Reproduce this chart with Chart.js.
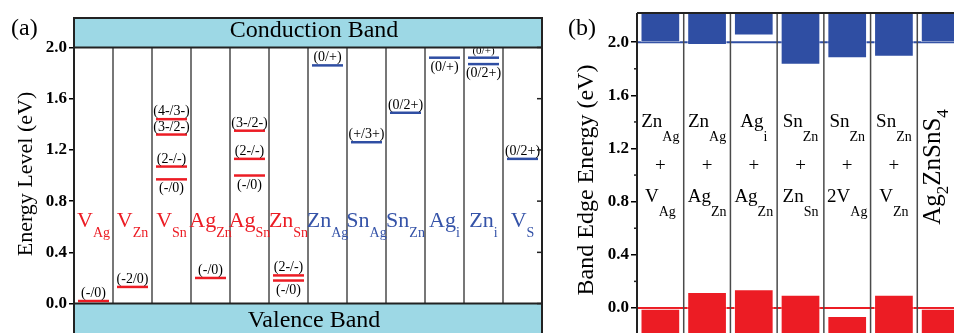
<!DOCTYPE html>
<html>
<head>
<meta charset="utf-8">
<script src="https://cdn.jsdelivr.net/npm/chart.js@4/dist/chart.umd.min.js"></script>
<style>
  html, body { margin: 0; padding: 0; background: #fff; overflow: hidden; }
  #wrap { position: relative; width: 954px; height: 333px; overflow: hidden; background: #fff; }
  canvas { position: absolute; top: 0; }
  #levels { left: 0; width: 560px; height: 360px; }
  #edges { left: 560px; width: 420px; height: 360px; }
</style>
</head>
<body>
<div id="wrap">
  <canvas id="levels" width="560" height="360"></canvas>
  <canvas id="edges" width="420" height="360"></canvas>
</div>
<script>
// ---------- (a) transition levels of isolated point defects ----------
const defectBase = ['V', 'V', 'V', 'Ag', 'Ag', 'Zn', 'Zn', 'Sn', 'Sn', 'Ag', 'Zn', 'V'];
const defectSub  = ['Ag', 'Zn', 'Sn', 'Zn', 'Sn', 'Sn', 'Ag', 'Ag', 'Zn', 'i', 'i', 'S'];
const acceptorDefects = 6; // the first six columns are acceptors

const acceptorColumn = [0, 1, 2, 2, 2, 2, 3, 4, 4, 4, 5, 5];
const acceptorLevel  = [0.02, 0.13, 1.44, 1.32, 1.07, 0.97, 0.20, 1.35, 1.13, 1.00, 0.22, 0.18];
const acceptorLabel  = ['(-/0)', '(-2/0)', '(4-/3-)', '(3-/2-)', '(2-/-)', '(-/0)', '(-/0)',
                        '(3-/2-)', '(2-/-)', '(-/0)', '(2-/-)', '(-/0)'];

const donorColumn = [6, 7, 8, 9, 10, 10, 11];
const donorLevel  = [1.86, 1.26, 1.49, 1.92, 1.92, 1.87, 1.13];
const donorLabel  = ['(0/+)', '(+/3+)', '(0/2+)', '(0/+)', '(0/+)', '(0/2+)', '(0/2+)'];

const levelTicks = [0, 0.4, 0.8, 1.2, 1.6, 2.0];
const gapCBM = 2.0;   // conduction band edge
const gapVBM = 0.0;   // valence band edge

// label placement: 1 above the level, -1 below it; font size in px
const acceptorLabelSide = [1, 1, 1, 1, 1, -1, 1, 1, 1, -1, 1, -1];
const donorLabelSide    = [1, 1, 1, -1, 1, -1, 1];
const donorLabelSize    = [14, 14, 14, 14, 11, 14, 14];

// ---------- (b) band edges of defect complexes ----------
const complexTop    = [['Zn', 'Ag'], ['Zn', 'Ag'], ['Ag', 'i'], ['Sn', 'Zn'], ['Sn', 'Zn'], ['Sn', 'Zn']];
const complexBottom = [['V', 'Ag'], ['Ag', 'Zn'], ['Ag', 'Zn'], ['Zn', 'Sn'], ['2V', 'Ag'], ['V', 'Zn']];
const hostFormula   = [['Ag', 0], ['2', 1], ['ZnSnS', 0], ['4', 1]];
const edgeCategories = ['ZnAg+VAg', 'ZnAg+AgZn', 'Agi+AgZn', 'SnZn+ZnSn', 'SnZn+2VAg', 'SnZn+VZn', 'Ag2ZnSnS4'];
const cbmEdge = [2.00, 1.98, 2.05, 1.83, 1.88, 1.89, 2.00];
const vbmEdge = [0.00, 0.12, 0.14, 0.10, -0.06, 0.10, 0.00];
const edgeTicks = [0, 0.4, 0.8, 1.2, 1.6, 2.0];
const edgeMinorTicks = [0.2, 0.6, 1.0, 1.4, 1.8];

const SERIF = '"Liberation Serif", "Times New Roman", serif';
const RED = '#ec1c24';
const BLUE = '#2f4ea3';
const NAME_BLUE = '#3553a8';
const CYAN = '#9dd8e5';
const FRAME = '#222';
const SEP = '#4a4a4a';

// draws text made of normal / subscript pieces, centred on cx
function drawPieces(ctx, pieces, cx, baseY, mainPx, subPx, subDrop, color) {
  ctx.fillStyle = color;
  ctx.textBaseline = 'alphabetic';
  ctx.textAlign = 'left';
  const widths = pieces.map(([t, s]) => {
    ctx.font = (s ? subPx : mainPx) + 'px ' + SERIF;
    return ctx.measureText(t).width;
  });
  const total = widths.reduce((p, q) => p + q, 0);
  let x = cx - total / 2;
  pieces.forEach(([t, s], k) => {
    ctx.font = (s ? subPx : mainPx) + 'px ' + SERIF;
    ctx.fillText(t, x, baseY + (s ? subDrop : 0));
    x += widths[k];
  });
}

function line(ctx, x1, y1, x2, y2) {
  ctx.beginPath(); ctx.moveTo(x1, y1); ctx.lineTo(x2, y2); ctx.stroke();
}

const levelDecor = {
  id: 'levelDecor',
  beforeDatasetsDraw(chart) {
    const { ctx, scales: { x, y } } = chart;
    const yTop = y.getPixelForValue(gapCBM), yBot = y.getPixelForValue(gapVBM);
    ctx.save();
    ctx.strokeStyle = SEP; ctx.lineWidth = 1.5;
    for (let i = 1; i < defectBase.length; i++) {
      const px = x.getPixelForValue(i);
      line(ctx, px, yTop, px, yBot);
    }
    ctx.restore();
  },
  afterDatasetsDraw(chart) {
    const { ctx, chartArea: a, scales: { x, y } } = chart;
    ctx.save();
    // transition-level labels
    ctx.textAlign = 'center';
    ctx.textBaseline = 'alphabetic';
    ctx.fillStyle = '#000';
    const put = (txt, col, val, side, size) => {
      ctx.font = size + 'px ' + SERIF;
      const px = x.getPixelForValue(col + 0.5);
      const py = y.getPixelForValue(val);
      ctx.fillText(txt, px, side > 0 ? py - 4 : py + 13);
    };
    acceptorLabel.forEach((t, i) => put(t, acceptorColumn[i], acceptorLevel[i], acceptorLabelSide[i], 14));
    donorLabel.forEach((t, i) => put(t, donorColumn[i], donorLevel[i], donorLabelSide[i], donorLabelSize[i]));

    // defect names
    defectBase.forEach((b, i) => {
      const cx = x.getPixelForValue(i + 0.5);
      drawPieces(ctx, [[b, 0], [defectSub[i], 1]], cx, 227, 22, 14, 10,
                 i < acceptorDefects ? RED : NAME_BLUE);
    });

    // conduction and valence bands
    const yC = y.getPixelForValue(gapCBM), yV = y.getPixelForValue(gapVBM);
    ctx.fillStyle = CYAN;
    ctx.fillRect(a.left, a.top, a.right - a.left, yC - a.top);
    ctx.fillRect(a.left, yV, a.right - a.left, a.bottom - yV);
    ctx.strokeStyle = FRAME; ctx.lineWidth = 2;
    line(ctx, a.left, yC, a.right, yC);
    line(ctx, a.left, yV, a.right, yV);
    ctx.fillStyle = '#000';
    ctx.font = '24px ' + SERIF;
    ctx.textAlign = 'center';
    const mid = (a.left + a.right) / 2 + 6;
    ctx.fillText('Conduction Band', mid, 37);
    ctx.fillText('Valence Band', mid, 327);

    // frame
    ctx.strokeStyle = FRAME; ctx.lineWidth = 2;
    ctx.strokeRect(a.left, a.top, a.right - a.left, a.bottom - a.top);
    // inward ticks on the right axis
    ctx.lineWidth = 1.5;
    levelTicks.forEach(v => {
      const py = y.getPixelForValue(v);
      line(ctx, a.right - 5, py, a.right, py);
    });

    // panel letter and axis title
    ctx.font = '24px ' + SERIF;
    ctx.textAlign = 'left';
    ctx.fillText('(a)', 11, 35);
    ctx.save();
    ctx.translate(32, 174);
    ctx.rotate(-Math.PI / 2);
    ctx.textAlign = 'center';
    ctx.font = '22px ' + SERIF;
    ctx.fillText('Energy Level (eV)', 0, 0);
    ctx.restore();
    ctx.restore();
  }
};

new Chart(document.getElementById('levels'), {
  type: 'scatter',
  data: {
    datasets: [
      {
        label: 'acceptor levels',
        data: acceptorLevel.map((v, i) => ({ x: acceptorColumn[i] + 0.5, y: v })),
        pointStyle: 'line', pointRadius: 15.5, pointHoverRadius: 15.5,
        pointBorderWidth: 2.5, pointBorderColor: RED, borderColor: RED
      },
      {
        label: 'donor levels',
        data: donorLevel.map((v, i) => ({ x: donorColumn[i] + 0.5, y: v })),
        pointStyle: 'line', pointRadius: 15.5, pointHoverRadius: 15.5,
        pointBorderWidth: 2.5, pointBorderColor: BLUE, borderColor: BLUE
      }
    ]
  },
  options: {
    responsive: false,
    animation: false,
    events: [],
    layout: { padding: { left: 0, top: 13, right: 14, bottom: 14 } },
    plugins: { legend: { display: false }, tooltip: { enabled: false } },
    scales: {
      x: { type: 'linear', min: 0, max: defectBase.length, display: false },
      y: {
        min: -0.3, max: 2.23,
        afterFit: s => { s.width = 74; },
        afterBuildTicks: s => { s.ticks = levelTicks.map(v => ({ value: v })); },
        border: { display: false },
        grid: { drawOnChartArea: false, drawTicks: true, tickLength: 5, color: '#000', lineWidth: 1.5 },
        ticks: {
          padding: 2, color: '#000',
          font: { family: SERIF, size: 17, weight: 'bold' },
          callback: v => Number(v).toFixed(1)
        }
      }
    }
  },
  plugins: [levelDecor]
});

// ---------- panel (b) ----------
const edgeDecor = {
  id: 'edgeDecor',
  beforeDatasetsDraw(chart) {
    const { ctx, chartArea: a, scales: { y } } = chart;
    ctx.save();
    ctx.lineWidth = 2;
    ctx.strokeStyle = BLUE;
    const yc = y.getPixelForValue(cbmEdge[cbmEdge.length - 1]);
    line(ctx, a.left, yc, a.right, yc);
    ctx.strokeStyle = RED;
    const yv = y.getPixelForValue(vbmEdge[vbmEdge.length - 1]);
    line(ctx, a.left, yv, a.right, yv);
    ctx.restore();
  },
  afterDatasetsDraw(chart) {
    const { ctx, chartArea: a, scales: { x, y } } = chart;
    const n = edgeCategories.length;
    const colW = (a.right - a.left) / n;
    ctx.save();
    // column separators
    ctx.strokeStyle = SEP; ctx.lineWidth = 1.5;
    for (let i = 1; i < n; i++) {
      const px = x.getPixelForValue(i) - colW / 2;
      line(ctx, px, a.top, px, a.bottom);
    }
    // frame (top and left)
    ctx.strokeStyle = FRAME; ctx.lineWidth = 2;
    line(ctx, a.left, a.top, a.right, a.top);
    line(ctx, a.left, a.top, a.left, a.bottom);
    // minor ticks
    ctx.lineWidth = 1.5;
    edgeMinorTicks.forEach(v => {
      const py = y.getPixelForValue(v);
      line(ctx, a.left - 3, py, a.left, py);
    });

    // complex labels
    complexTop.forEach((p, i) => {
      const cx = x.getPixelForValue(i);
      drawPieces(ctx, [[p[0], 0], [p[1], 1]], cx, 127, 19, 14, 14, '#000');
      ctx.font = '19px ' + SERIF; ctx.textAlign = 'center'; ctx.fillStyle = '#000';
      ctx.fillText('+', cx, 171);
      const q = complexBottom[i];
      drawPieces(ctx, [[q[0], 0], [q[1], 1]], cx, 202, 19, 14, 14, '#000');
    });
    // host formula, rotated
    ctx.save();
    ctx.translate(x.getPixelForValue(n - 1) - 1, 167);
    ctx.rotate(-Math.PI / 2);
    drawPieces(ctx, hostFormula, 0, 0, 25, 17, 8, '#000');
    ctx.restore();

    // panel letter and axis title
    ctx.fillStyle = '#000';
    ctx.font = '24px ' + SERIF;
    ctx.textAlign = 'left';
    ctx.fillText('(b)', 8, 35);
    ctx.save();
    ctx.translate(33, 180);
    ctx.rotate(-Math.PI / 2);
    ctx.textAlign = 'center';
    ctx.font = '24px ' + SERIF;
    ctx.fillText('Band Edge Energy (eV)', 0, 0);
    ctx.restore();
    ctx.restore();
  }
};

new Chart(document.getElementById('edges'), {
  type: 'bar',
  data: {
    labels: edgeCategories,
    datasets: [
      {
        label: 'CBM',
        data: cbmEdge.map(v => [v, 2.5]),
        backgroundColor: BLUE, borderColor: 'rgba(255,255,255,0.55)', borderWidth: 1,
        borderSkipped: false, grouped: false, barPercentage: 0.85, categoryPercentage: 1
      },
      {
        label: 'VBM',
        data: vbmEdge.map(v => [-0.5, v]),
        backgroundColor: RED, borderColor: 'rgba(255,255,255,0.55)', borderWidth: 1,
        borderSkipped: false, grouped: false, barPercentage: 0.85, categoryPercentage: 1
      }
    ]
  },
  options: {
    responsive: false,
    animation: false,
    events: [],
    layout: { padding: { left: 0, top: 13, right: 16, bottom: 10 } },
    plugins: { legend: { display: false }, tooltip: { enabled: false } },
    scales: {
      x: { display: false },
      y: {
        min: -0.3, max: 2.22,
        afterFit: s => { s.width = 77; },
        afterBuildTicks: s => { s.ticks = edgeTicks.map(v => ({ value: v })); },
        border: { display: false },
        grid: { drawOnChartArea: false, drawTicks: true, tickLength: 6, color: '#000', lineWidth: 1.5 },
        ticks: {
          padding: 2, color: '#000',
          font: { family: SERIF, size: 17, weight: 'bold' },
          callback: v => Number(v).toFixed(1)
        }
      }
    }
  },
  plugins: [edgeDecor]
});
</script>
</body>
</html>
